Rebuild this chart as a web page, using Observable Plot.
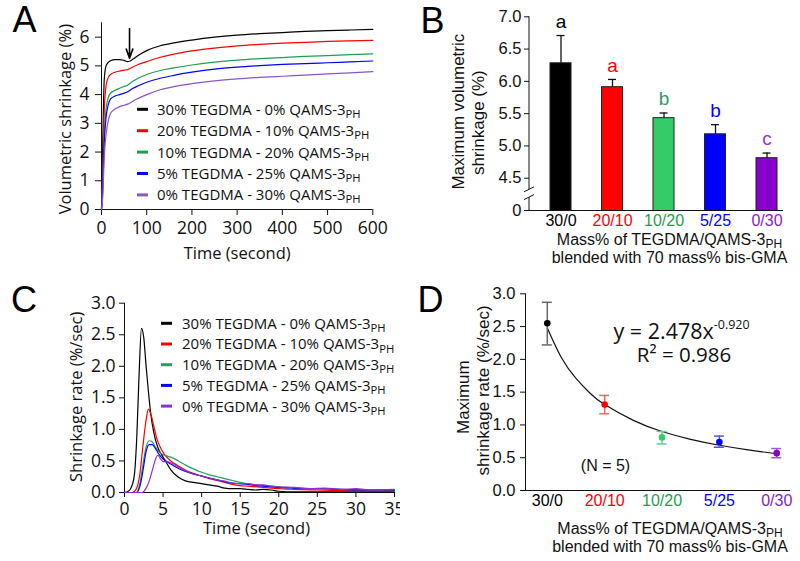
<!DOCTYPE html>
<html><head><meta charset="utf-8">
<script src="https://cdn.jsdelivr.net/npm/d3@7"></script>
<script src="https://cdn.jsdelivr.net/npm/@observablehq/plot@0.6"></script>
<style>
html,body{margin:0;padding:0;background:#fff;}
#fig{position:relative;width:800px;height:561px;overflow:hidden;background:#fff;}
#fig svg{position:absolute;}
</style></head><body><div id="fig"></div>
<script>
// ---------- shared ----------
const seriesLabels = ["30% TEGDMA - 0% QAMS-3_PH","20% TEGDMA - 10% QAMS-3_PH","10% TEGDMA - 20% QAMS-3_PH","5% TEGDMA - 25% QAMS-3_PH","0% TEGDMA - 30% QAMS-3_PH"];
const categories = ["30/0","20/10","10/20","5/25","0/30"];

// ---------- panel A : volumetric shrinkage vs time ----------
const aTime     = [0, 3, 6, 10, 15, 20, 30, 40, 50, 58, 62, 70, 80, 100, 130, 160, 200, 250, 300, 350, 400, 450, 500, 550, 600];
const aVol30_0  = [0, 2.5, 4.5, 5.0, 5.12, 5.18, 5.22, 5.22, 5.19, 5.15, 5.16, 5.24, 5.35, 5.53, 5.7, 5.8, 5.9, 6.0, 6.07, 6.12, 6.16, 6.2, 6.23, 6.25, 6.27];
const aVol20_10 = [0, 1.5, 3.4, 4.3, 4.6, 4.7, 4.78, 4.82, 4.85, 4.87, 4.9, 4.97, 5.04, 5.15, 5.3, 5.41, 5.52, 5.62, 5.7, 5.75, 5.79, 5.82, 5.85, 5.87, 5.89];
const aVol10_20 = [0, 1.0, 2.6, 3.5, 3.9, 4.05, 4.15, 4.22, 4.28, 4.33, 4.38, 4.47, 4.56, 4.7, 4.84, 4.93, 5.03, 5.13, 5.2, 5.25, 5.29, 5.33, 5.36, 5.39, 5.42];
const aVol5_25  = [0, 0.8, 2.3, 3.2, 3.65, 3.85, 3.95, 4.0, 4.05, 4.1, 4.14, 4.22, 4.3, 4.43, 4.57, 4.67, 4.78, 4.89, 4.96, 5.01, 5.05, 5.08, 5.11, 5.14, 5.17];
const aVol0_30  = [0, 0.5, 1.8, 2.6, 3.1, 3.35, 3.5, 3.58, 3.63, 3.67, 3.7, 3.78, 3.86, 4.0, 4.17, 4.28, 4.38, 4.48, 4.55, 4.6, 4.64, 4.68, 4.72, 4.76, 4.8];
const aColors = ["#000000", "#ff0000", "#1f9e50", "#0000ff", "#8a55cc"];
const aXTicks = [0, 100, 200, 300, 400, 500, 600];
const aYTicks = [0, 1, 2, 3, 4, 5, 6];
const arrowT = [62, 62];     // time of arrow (start, end)
const arrowY = [6.3, 5.27];  // shrinkage at arrow start/end

// ---------- panel B : maximum volumetric shrinkage ----------
const bMean = [6.28, 5.91, 5.43, 5.18, 4.81];
const bSD   = [0.43, 0.12, 0.08, 0.15, 0.08];
const bLetters = ["a", "a", "b", "b", "c"];
const bBarColors = ["#000000", "#ff0000", "#33cc66", "#0000ff", "#8800cc"];
const bLetterColors = ["#000000", "#ff0000", "#2e9a6a", "#0000ff", "#9933cc"];
const catColors = ["#000000", "#ff0000", "#1e9e4e", "#0000ff", "#8822cc"];
const bYTicks = [4, 4.5, 5, 5.5, 6, 6.5, 7];

// ---------- panel C : shrinkage rate vs time ----------
const cT30_0  = [0,0.5,1,1.3,1.6,1.9,2.2,2.5,2.8,3.1,3.4,3.8,4.3,4.8,5.3,6,7,8,9,10,11,12,13,14,15,16,17,18,19,20,22,25,28,31,35];
const cR30_0  = [0,0.02,0.12,0.3,0.9,1.9,2.6,2.45,2.0,1.6,1.25,0.95,0.72,0.6,0.5,0.36,0.24,0.18,0.16,0.14,0.12,0.1,0.07,0.06,0.06,0.05,0.04,0.05,0.04,0.02,0.01,0.01,0.01,0.01,0.01];
const cT20_10 = [0,1,1.5,2,2.4,2.8,3.1,3.4,3.8,4.2,4.7,5.2,6,7,8,9,10,11,12,13,14,15,16,18,20,22,25,28,31,35];
const cR20_10 = [0,0,0.05,0.3,0.75,1.15,1.32,1.25,1.05,0.85,0.7,0.6,0.5,0.42,0.35,0.3,0.26,0.22,0.19,0.16,0.13,0.11,0.1,0.08,0.06,0.05,0.04,0.03,0.03,0.03];
const cT10_20 = [0,1.5,2,2.4,2.8,3.2,3.6,4,4.5,5,5.5,6,7,8,9,10,11,12,13,14,15,16,18,20,22,25,28,31,35];
const cR10_20 = [0,0,0.15,0.45,0.72,0.82,0.8,0.72,0.64,0.6,0.58,0.56,0.5,0.43,0.37,0.32,0.28,0.25,0.22,0.19,0.16,0.14,0.11,0.09,0.07,0.06,0.05,0.04,0.04];
const cT5_25  = [0,1.6,2,2.4,2.8,3.2,3.6,4,4.5,5,5.5,6,7,8,9,10,11,12,13,14,15,16,17,18,20,22,25,28,31,35];
const cR5_25  = [0,0,0.1,0.35,0.65,0.76,0.76,0.7,0.6,0.53,0.49,0.45,0.38,0.33,0.29,0.26,0.23,0.2,0.17,0.15,0.14,0.13,0.11,0.1,0.08,0.07,0.06,0.05,0.04,0.04];
const cT0_30  = [0,2.3,2.8,3.2,3.6,4,4.3,4.7,5,5.5,6,6.5,7,8,9,10,11,12,13,14,15,16,17,18,19,20,22,24,26,28,30,32,35];
const cR0_30  = [0,0,0.07,0.18,0.35,0.52,0.59,0.53,0.49,0.49,0.47,0.44,0.4,0.34,0.29,0.26,0.23,0.2,0.18,0.15,0.14,0.14,0.12,0.12,0.1,0.09,0.08,0.06,0.07,0.05,0.06,0.04,0.05];
const cColors = ["#000000", "#ff0000", "#23a05a", "#0000ff", "#9030d0"];
const cXTicks = [0, 5, 10, 15, 20, 25, 30, 35];
const cYTicks = [0, 0.5, 1, 1.5, 2, 2.5, 3];

// ---------- panel D : maximum shrinkage rate ----------
const dIndex = [1, 2, 3, 4, 5];
const dMean = [2.55, 1.31, 0.81, 0.74, 0.57];
const dLo   = [2.22, 1.17, 0.71, 0.66, 0.50];
const dHi   = [2.87, 1.45, 0.90, 0.83, 0.64];
const dDotColors = ["#000000", "#ff0000", "#33cc66", "#0000ff", "#8800cc"];
const dErrColors = ["#666666", "#ff6060", "#66cc88", "#5050ff", "#a055dd"];
const fitX = [1, 1.25, 1.5, 1.75, 2, 2.5, 3, 3.5, 4, 4.5, 5];
const fitY = [2.48, 2.02, 1.71, 1.48, 1.31, 1.07, 0.90, 0.78, 0.69, 0.62, 0.56];
const dYTicks = [0, 0.5, 1, 1.5, 2, 2.5, 3];
const dXDomain = [0.62, 5.24];

// ---------- helpers ----------
const FA = "'Open Sans','Noto Sans',sans-serif";
const ARIAL = "'Liberation Sans',Arial,sans-serif";
const NS = "http://www.w3.org/2000/svg";
const fig = document.getElementById("fig");

// a single centred text placed relative to the frame
function T(str, opts) {
  return Plot.text([str], {textAnchor: "middle", lineAnchor: "middle", ...opts});
}
function richText(t, s) {
  const m = s.match(/^(.*?)([_^])(.*)$/);
  while (t.firstChild) t.removeChild(t.firstChild);
  if (!m) { t.appendChild(document.createTextNode(s)); return; }
  t.appendChild(document.createTextNode(m[1]));
  const ts = document.createElementNS(NS, "tspan");
  ts.textContent = m[3];
  if (m[2] === "_") { ts.setAttribute("font-size", "0.75em"); ts.setAttribute("dy", "0.28em"); }
  else { ts.setAttribute("font-size", "0.58em"); ts.setAttribute("dy", "-0.8em"); }
  t.appendChild(ts);
}
function richify(svg) {
  svg.querySelectorAll("text").forEach(t => {
    const s = t.textContent;
    if (/[_^]/.test(s)) richText(t, s);
  });
}
function addLegend(svg, o) {
  const g = d3.select(svg).append("g");
  o.labels.forEach((lab, i) => {
    const yy = o.y + i * o.step;
    g.append("line").attr("x1", o.x).attr("x2", o.x + o.sw).attr("y1", yy).attr("y2", yy)
      .attr("stroke", o.colors[i]).attr("stroke-width", 3);
    const t = g.append("text").attr("x", o.x + o.sw + o.gap).attr("y", yy).attr("dy", "0.36em")
      .attr("font-size", o.size).attr("font-family", o.family).attr("text-anchor", "start").attr("fill", "#111");
    richText(t.node(), lab);
  });
}
function place(svg, left, top) {
  svg.style.left = left + "px"; svg.style.top = top + "px";
  fig.appendChild(svg);
}

// ---------- panel A ----------
const aSeries = [aVol30_0, aVol20_10, aVol10_20, aVol5_25, aVol0_30];
const A = Plot.plot({
  width: 400, height: 280,
  marginLeft: 101, marginRight: 27.7, marginTop: 22.3, marginBottom: 71,
  style: {fontFamily: FA, fontSize: "17.5px", background: "transparent", color: "#111"},
  x: {domain: [0, 600], ticks: aXTicks, tickFormat: d => String(d), tickSize: 6, tickPadding: 6, label: null},
  y: {domain: [0, 6.5], ticks: aYTicks, tickFormat: d => String(d), tickSize: 6, tickPadding: 6, label: null},
  marks: [
    Plot.ruleX([0]), Plot.ruleY([0]),
    ...aSeries.map((vals, i) => Plot.line(aTime.map((t, j) => ({t, v: vals[j]})),
      {x: "t", y: "v", stroke: aColors[i], strokeWidth: 1.2, curve: "monotone-x"})),
    Plot.arrow([{x1: arrowT[0], x2: arrowT[1], y1: arrowY[0], y2: arrowY[1]}],
      {x1: "x1", y1: "y1", x2: "x2", y2: "y2", stroke: "#000", strokeWidth: 1.6, headLength: 9, headAngle: 40}),
    T("Time (second)", {frameAnchor: "bottom", dy: 44.5, fontSize: 16.5}),
    T("Volumetric shrinkage (%)", {frameAnchor: "left", dx: -36, dy: 3, rotate: -90, fontSize: 16.5}),
    T("A", {frameAnchor: "top-left", dx: -77, dy: -2, fontSize: 36, fontFamily: ARIAL, fill: "#000"})
  ]
});
addLegend(A, {labels: seriesLabels, colors: aColors, x: 137, y: 109.3, step: 21.4, sw: 11, gap: 9, size: 15, family: FA});
richify(A);
place(A, 0, 0);

// ---------- panel B ----------
const B_ML = 129;
const bRows = categories.map((cat, i) => ({cat, mean: bMean[i], top: bMean[i] + bSD[i], letter: bLetters[i],
  fill: bBarColors[i], lcolor: bLetterColors[i], tcolor: catColors[i]}));
const B = Plot.plot({
  width: 400, height: 280,
  marginLeft: B_ML, marginRight: 17, marginTop: 16.3, marginBottom: 70,
  style: {fontFamily: ARIAL, fontSize: "16.5px", background: "transparent", color: "#111"},
  x: {domain: categories, range: [150, 377], paddingInner: 0.592, paddingOuter: 0, round: false, axis: null},
  y: {domain: [4, 7], ticks: bYTicks, tickFormat: d => d === 4 ? "0" : d.toFixed(1), tickSize: 5, tickPadding: 3, label: null},
  color: {type: "identity"},
  marks: [
    Plot.barY(bRows, {x: "cat", y: "mean", fill: "fill", stroke: "#222", strokeWidth: 1, clip: true}),
    Plot.ruleX(bRows, {x: "cat", y1: "mean", y2: "top", stroke: "#111", strokeWidth: 1.3}),
    Plot.tickY(bRows, {x: "cat", y: "top", stroke: "#111", strokeWidth: 1.3, insetLeft: 6.5, insetRight: 6.5}),
    Plot.ruleY([4]),
    Plot.text(bRows, {x: "cat", y: "top", text: "letter", fill: "lcolor", dy: -14, fontSize: 19, lineAnchor: "middle"}),
    Plot.text(bRows, {x: "cat", text: "cat", fill: "tcolor", frameAnchor: "bottom", dy: 10, fontSize: 16, lineAnchor: "middle", textAnchor: "middle"}),
    T("Mass% of TEGDMA/QAMS-3_PH", {frameAnchor: "bottom", dx: 13, dy: 29, fontSize: 16}),
    T("blended with 70 mass% bis-GMA", {frameAnchor: "bottom", dx: 13, dy: 47, fontSize: 16}),
    T("Maximum volumetric", {frameAnchor: "left", rotate: -90, dx: -71, dy: -2, fontSize: 17}),
    T("shrinkage (%)", {frameAnchor: "left", rotate: -90, dx: -51, dy: 9, fontSize: 17}),
    T("B", {frameAnchor: "top-left", dx: -97, dy: 4.5, fontSize: 36, fill: "#000"})
  ]
});
{
  const by = B.scale("y");
  const g = d3.select(B).append("g").attr("stroke", "#111").attr("stroke-width", 1).attr("fill", "none");
  const yHi = by.apply(4.32), yLo = by.apply(4.2);
  g.append("line").attr("x1", B_ML).attr("x2", B_ML).attr("y1", by.apply(7)).attr("y2", yHi);
  g.append("line").attr("x1", B_ML).attr("x2", B_ML).attr("y1", yLo).attr("y2", by.apply(4));
  g.append("line").attr("x1", B_ML - 5).attr("x2", B_ML + 5).attr("y1", yHi + 2.5).attr("y2", yHi - 2.5);
  g.append("line").attr("x1", B_ML - 5).attr("x2", B_ML + 5).attr("y1", yLo + 2.5).attr("y2", yLo - 2.5);
}
richify(B);
place(B, 400, 0);

// ---------- panel C ----------
const cSeries = [[cT30_0, cR30_0], [cT20_10, cR20_10], [cT10_20, cR10_20], [cT5_25, cR5_25], [cT0_30, cR0_30]];
const C = Plot.plot({
  width: 400, height: 281,
  marginLeft: 124, marginRight: 6, marginTop: 22.7, marginBottom: 69,
  style: {fontFamily: FA, fontSize: "17.5px", background: "transparent", color: "#111", overflow: "hidden"},
  x: {domain: [0, 35], ticks: cXTicks, tickFormat: d => String(d), tickSize: 5, tickPadding: 5, label: null},
  y: {domain: [0, 3], ticks: cYTicks, tickFormat: d3.format(".1f"), tickSize: 5, tickPadding: 4, label: null},
  marks: [
    Plot.ruleX([0]), Plot.ruleY([0]),
    ...cSeries.map(([ts, rs], i) => Plot.line(ts.map((t, j) => ({t, r: rs[j]})),
      {x: "t", y: "r", stroke: cColors[i], strokeWidth: 1.2, curve: "monotone-x"})),
    T("Time (second)", {frameAnchor: "bottom", dx: -3, dy: 36, fontSize: 16.5}),
    T("Shrinkage rate (%/sec)", {frameAnchor: "left", dx: -48, dy: -1, rotate: -90, fontSize: 16.5}),
    T("C", {frameAnchor: "top-left", dx: -100.5, dy: -2.7, fontSize: 36, fontFamily: ARIAL, fill: "#000"})
  ]
});
addLegend(C, {labels: seriesLabels, colors: cColors, x: 161, y: 43.3, step: 20.7, sw: 11, gap: 10, size: 15, family: FA});
richify(C);
place(C, 0, 280);

// ---------- panel D ----------
const dRows = dIndex.map((i, k) => ({i, cat: categories[k], mean: dMean[k], lo: dLo[k], hi: dHi[k],
  fill: dDotColors[k], ecolor: dErrColors[k], tcolor: catColors[k]}));
const fitRows = fitX.map((x, k) => ({x, y: fitY[k]}));
const D = Plot.plot({
  width: 400, height: 281,
  marginLeft: 125, marginRight: 10, marginTop: 13.3, marginBottom: 71,
  style: {fontFamily: ARIAL, fontSize: "16.5px", background: "transparent", color: "#111"},
  x: {domain: dXDomain, axis: null},
  y: {domain: [0, 3], ticks: dYTicks, tickFormat: d3.format(".1f"), tickSize: 5, tickPadding: 5, label: null},
  color: {type: "identity"},
  marks: [
    Plot.ruleX([dXDomain[0]]), Plot.ruleY([0]),
    Plot.line(fitRows, {x: "x", y: "y", curve: "natural", stroke: "#111", strokeWidth: 1.2}),
    Plot.ruleX(dRows, {x: "i", y1: "lo", y2: "hi", stroke: "ecolor", strokeWidth: 1.5}),
    Plot.ruleY(dRows, {y: "hi", x1: "i", x2: "i", insetLeft: -5, insetRight: -5, stroke: "ecolor", strokeWidth: 1.5}),
    Plot.ruleY(dRows, {y: "lo", x1: "i", x2: "i", insetLeft: -5, insetRight: -5, stroke: "ecolor", strokeWidth: 1.5}),
    Plot.dot(dRows, {x: "i", y: "mean", r: 3.3, fill: "fill"}),
    Plot.text(dRows, {x: "i", text: "cat", fill: "tcolor", frameAnchor: "bottom", dy: 10, fontSize: 16, lineAnchor: "middle", textAnchor: "middle"}),
    T("y = 2.478x^-0.920", {frameAnchor: "top-left", dx: 88, dy: 38.4, textAnchor: "start", fontFamily: FA, fontSize: 21.5}),
    T("R² = 0.986", {frameAnchor: "top-left", dx: 158.5, dy: 61.7, fontFamily: FA, fontSize: 20.5}),
    T("(N = 5)", {frameAnchor: "top-left", dx: 80, dy: 171.7, fontSize: 16}),
    T("Mass% of TEGDMA/QAMS-3_PH", {frameAnchor: "bottom", dx: 12, dy: 38.3, fontSize: 16}),
    T("blended with 70 mass% bis-GMA", {frameAnchor: "bottom", dx: 12, dy: 56.7, fontSize: 16}),
    T("Maximum", {frameAnchor: "left", rotate: -90, dx: -61.7, dy: 5, fontSize: 17}),
    T("shrinkage rate (%/sec)", {frameAnchor: "left", rotate: -90, dx: -41.7, dy: -1.7, fontSize: 17}),
    T("D", {frameAnchor: "top-left", dx: -95, dy: 6.7, fontSize: 36, fill: "#000"})
  ]
});
richify(D);
place(D, 400, 280);
</script></body></html>
